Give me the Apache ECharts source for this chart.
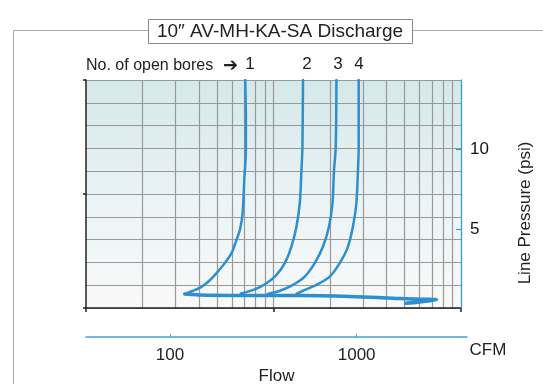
<!DOCTYPE html>
<html>
<head>
<meta charset="utf-8">
<script src="https://cdn.jsdelivr.net/npm/echarts@6/dist/echarts.min.js"></script>
<style>
html, body { margin: 0; padding: 0; background: #fff; }
#main { width: 543px; height: 384px; }
</style>
</head>
<body>
<div id="main"></div>
<script>
// flow (CFM) / line pressure (psi)
var bore1Flow = [253, 255, 255, 250, 245, 237, 227, 214, 197, 178, 164, 148, 133, 120];
var bore1Psi  = [14.4, 11.9, 10.0, 8.1, 6.0, 4.94, 4.3, 3.48, 2.85, 2.22, 1.77, 1.35, 1.09, 0.89];
var bore2Flow = [516, 512, 506, 496, 476, 447, 412, 372, 329, 285, 240];
var bore2Psi  = [14.4, 10.1, 8.7, 6.65, 5.15, 3.88, 2.83, 2.09, 1.56, 1.18, 0.92];
var bore3Flow = [779, 772, 756, 742, 711, 660, 596, 527, 456, 388, 334];
var bore3Psi  = [14.4, 10.1, 8.7, 6.6, 5.15, 3.88, 2.83, 1.98, 1.46, 1.09, 0.89];
var bore4Flow = [1025, 1025, 1016, 996, 955, 898, 811, 717, 609, 516, 476];
var bore4Psi  = [14.4, 10.1, 8.7, 6.6, 5.15, 3.88, 2.83, 1.98, 1.46, 1.09, 0.89];
// the long stroke along the bottom and its hook
var baseFlow = [120, 164, 268, 496, 918, 1698, 2678, 1828];
var basePsi  = [0.89, 0.80, 0.79, 0.79, 0.73, 0.60, 0.51, 0.30];

var boreNames = ['1', '2', '3', '4'];
var flowTicks = [100, 1000];
var psiTicks = [5, 10];
var gridTicks = [2, 3, 4, 5, 6, 7, 8, 9, 10, 20, 30, 40, 50, 60, 70, 80, 90];

var font = 'Liberation Sans, Arial, sans-serif';
var blue = '#2b8fd0';

function zip(xs, ys) {
    return xs.map(function (x, i) { return [x, ys[i]]; });
}

function curve(name, xs, ys, w) {
    return {
        name: name,
        type: 'line',
        xAxisIndex: 0,
        yAxisIndex: 0,
        data: zip(xs, ys),
        showSymbol: false,
        smooth: 0.3,
        silent: true,
        lineStyle: { color: blue, width: w, cap: 'round', join: 'round' },
        z: 5
    };
}

var chart = echarts.init(document.getElementById('main'));

var option = {
    animation: false,
    backgroundColor: '#fff',
    grid: [{
        left: 86, top: 80, width: 375, height: 228,
        show: true, borderWidth: 0,
        outerBoundsMode: 'none',
        backgroundColor: {
            type: 'linear', x: 0, y: 0, x2: 0, y2: 1,
            colorStops: [
                { offset: 0, color: '#d4e8ea' },
                { offset: 0.55, color: '#ebf4f6' },
                { offset: 1, color: '#f9f9f8' }
            ]
        }
    }, {
        left: 86, top: 336, width: 381, height: 1, outerBoundsMode: 'none'
    }],
    xAxis: [{
        // data axis for the curves
        gridIndex: 0, type: 'log', min: 35.5, max: 3620, show: false
    }, {
        // log grid lines
        gridIndex: 0, type: 'log', min: 1, max: 100, position: 'top',
        axisLine: { show: false, onZero: false },
        axisTick: { show: false, customValues: gridTicks },
        axisLabel: { show: false },
        splitLine: { show: true, lineStyle: { color: '#999', width: 1.2 } }
    }, {
        // black frame axis
        gridIndex: 0, type: 'log', min: 1, max: 100, position: 'bottom',
        axisLine: { show: true, onZero: false, lineStyle: { color: '#222', width: 1.5 } },
        axisTick: { show: true, length: 4, lineStyle: { color: '#222', width: 1.5 } },
        axisLabel: { show: false },
        splitLine: { show: false }
    }, {
        // CFM axis
        gridIndex: 1, type: 'log', min: 35.5, max: 3900, position: 'bottom',
        name: 'Flow', nameLocation: 'middle', nameGap: 31,
        nameTextStyle: { fontSize: 17, fontFamily: font, color: '#222' },
        axisLine: { show: true, onZero: false, lineStyle: { color: '#4a9ed6', width: 1.5 } },
        axisTick: { show: true, inside: true, length: 3, customValues: flowTicks, lineStyle: { color: '#4a9ed6' } },
        axisLabel: {
            show: true, customValues: flowTicks, margin: 10, fontSize: 17, fontFamily: font, color: '#222',
            formatter: function (v) { return String(Math.round(v)); }
        },
        splitLine: { show: false }
    }],
    yAxis: [{
        gridIndex: 0, type: 'value', min: 0, max: 14.4, position: 'right', z: 10,
        axisLine: { show: true, onZero: false, lineStyle: { color: '#3a9ad9', width: 1.3 } },
        axisTick: { show: true, inside: true, length: 5, customValues: psiTicks, lineStyle: { color: '#3a9ad9', width: 1.2 } },
        axisLabel: { show: true, customValues: psiTicks, margin: 9, fontSize: 17, fontFamily: font, color: '#111' },
        splitLine: { show: false }
    }, {
        gridIndex: 0, type: 'value', min: 0, max: 10, interval: 1, position: 'left',
        axisLine: { show: false, onZero: false },
        axisTick: { show: false },
        axisLabel: { show: false },
        splitLine: { show: true, lineStyle: { color: '#999', width: 1.2 } }
    }, {
        gridIndex: 0, type: 'value', min: 0, max: 10, interval: 5, position: 'left', z: 10,
        axisLine: { show: true, onZero: false, lineStyle: { color: '#222', width: 1.5 } },
        axisTick: { show: true, length: 3, lineStyle: { color: '#222', width: 1.5 } },
        axisLabel: { show: false },
        splitLine: { show: false }
    }, {
        gridIndex: 1, type: 'value', show: false
    }],
    graphic: [
        { type: 'polyline', z: 0, shape: { points: [[13.5, 384], [13.5, 30.5], [543, 30.5]] },
          style: { stroke: '#aaa', lineWidth: 1, fill: null } },
        { type: 'rect', z: 1, shape: { x: 148.5, y: 19.5, width: 264, height: 24 },
          style: { fill: '#fff', stroke: '#888', lineWidth: 1 } },
        { type: 'text', z: 2, x: 280, y: 32,
          style: { text: '10\u2033 AV-MH-KA-SA Discharge', fontSize: 19, fontFamily: font, fill: '#222', align: 'center', verticalAlign: 'middle' } },
        { type: 'text', z: 2, x: 86, y: 66,
          style: { text: 'No. of open bores', fontSize: 16, fontFamily: font, fill: '#222', align: 'left', verticalAlign: 'middle' } },
        { type: 'text', z: 2, x: 223, y: 66,
          style: { text: '\u2794', fontSize: 18, fontWeight: 'bold', fontFamily: 'DejaVu Sans', fill: '#222', align: 'left', verticalAlign: 'middle' } },
        { type: 'text', z: 2, x: 250, y: 64,
          style: { text: boreNames[0], fontSize: 17, fontFamily: font, fill: '#222', align: 'center', verticalAlign: 'middle' } },
        { type: 'text', z: 2, x: 307, y: 64,
          style: { text: boreNames[1], fontSize: 17, fontFamily: font, fill: '#222', align: 'center', verticalAlign: 'middle' } },
        { type: 'text', z: 2, x: 338, y: 64,
          style: { text: boreNames[2], fontSize: 17, fontFamily: font, fill: '#222', align: 'center', verticalAlign: 'middle' } },
        { type: 'text', z: 2, x: 359, y: 64,
          style: { text: boreNames[3], fontSize: 17, fontFamily: font, fill: '#222', align: 'center', verticalAlign: 'middle' } },
        { type: 'text', z: 2, x: 488, y: 350,
          style: { text: 'CFM', fontSize: 17, fontFamily: font, fill: '#222', align: 'center', verticalAlign: 'middle' } },
        { type: 'text', z: 2, x: 525, y: 213, rotation: Math.PI / 2,
          style: { text: 'Line Pressure (psi)', fontSize: 17, fontFamily: font, fill: '#222', align: 'center', verticalAlign: 'middle' } }
    ],
    series: [
        curve('1', bore1Flow, bore1Psi, 2.5),
        curve('2', bore2Flow, bore2Psi, 2.5),
        curve('3', bore3Flow, bore3Psi, 2.5),
        curve('4', bore4Flow, bore4Psi, 2.5),
        curve('base', baseFlow, basePsi, 3.5)
    ]
};

chart.setOption(option);
</script>
</body>
</html>
